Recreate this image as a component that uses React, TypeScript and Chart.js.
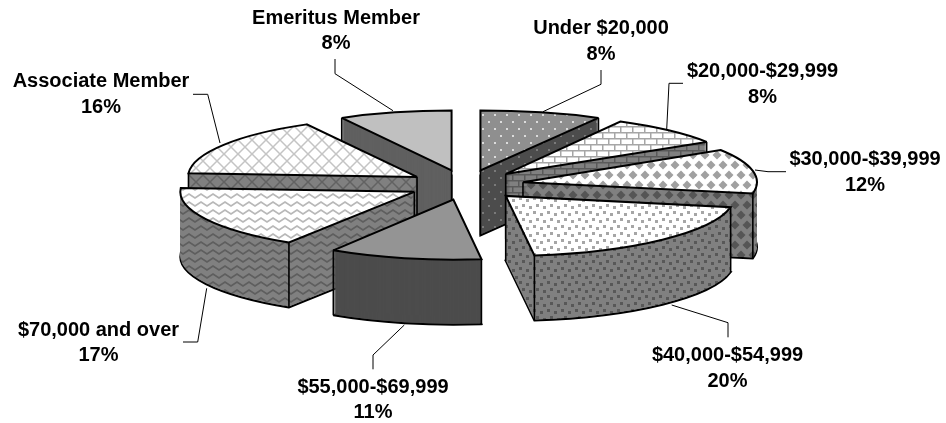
import React, { useEffect, useRef } from "react";
import { Chart, registerables } from "chart.js";

Chart.register(...registerables);

const categories = [
  "Under $20,000",
  "$20,000-$29,999",
  "$30,000-$39,999",
  "$40,000-$54,999",
  "$55,000-$69,999",
  "$70,000 and over",
  "Associate Member",
  "Emeritus Member",
];
const shares = [8, 8, 12, 20, 11, 17, 16, 8];

// Presentation of the 3-D pie
const CENTER_X = 466;
const CENTER_Y = 185;
const RADIUS_X = 232;
const RADIUS_Y = 60;
const DEPTH = 65;
const EXPLODE = 0.25;
// Horizontal radius per slice: the source's perspective makes them differ slightly
const sliceRadiusX = [245, 238, 234, 229, 224, 234, 229, 228];

// Label anchor [centre x, first baseline, second baseline] and leader polylines
const labelAnchors = [
  [601, 34, 60],
  [762.5, 77, 103],
  [865, 165, 191],
  [727.5, 361, 387],
  [373, 393, 418],
  [98.5, 336, 361],
  [101, 87, 113],
  [336, 24, 49],
];
const leaders = [
  [[601, 70], [601, 84.3], [543, 111.7]],
  [[683, 83.3], [669, 83.3], [666.7, 129.3]],
  [[786, 171.7], [768, 171.7], [755, 170]],
  [[728, 337.3], [728, 322.7], [671.7, 305]],
  [[373, 369.3], [373, 355], [404.3, 325]],
  [[183, 342], [197.7, 342], [206.7, 288.3]],
  [[193, 94.3], [207.7, 94.3], [220, 143]],
  [[335, 59], [335, 73.7], [393, 110.7]],
];

type Painter = (g: CanvasRenderingContext2D) => void;

function tile(w: number, h: number, bg: string, paint: Painter, ctx: CanvasRenderingContext2D) {
  const c = document.createElement("canvas");
  c.width = w;
  c.height = h;
  const g = c.getContext("2d") as CanvasRenderingContext2D;
  g.fillStyle = bg;
  g.fillRect(0, 0, w, h);
  paint(g);
  return ctx.createPattern(c, "repeat") as CanvasPattern;
}

const paintDots = (fg: string): Painter => (g) => {
  g.fillStyle = fg;
  g.fillRect(2, 2, 2, 2);
  g.fillRect(8, 9, 2, 2);
};
const paintBrick = (fg: string): Painter => (g) => {
  g.fillStyle = fg;
  g.fillRect(0, 0, 12, 1.5);
  g.fillRect(0, 6, 12, 1.5);
  g.fillRect(2, 0, 1.5, 6);
  g.fillRect(8, 6, 1.5, 6);
};
const paintDiamonds = (fg: string): Painter => (g) => {
  g.fillStyle = fg;
  const diamond = (x: number, y: number) => {
    g.beginPath();
    g.moveTo(x - 4.5, y);
    g.lineTo(x, y - 4.5);
    g.lineTo(x + 4.5, y);
    g.lineTo(x, y + 4.5);
    g.closePath();
    g.fill();
  };
  diamond(3, 5);
  diamond(15, 5);
  diamond(9, 15);
  diamond(-3, 15);
};
const paintSpeckle = (fg: string): Painter => (g) => {
  g.fillStyle = fg;
  g.fillRect(1, 1, 3, 3);
  g.fillRect(8, 3, 3, 3);
  g.fillRect(4, 8, 3, 3);
  g.fillRect(11, 10, 3, 3);
};
const paintZigzag = (fg: string): Painter => (g) => {
  g.strokeStyle = fg;
  g.lineWidth = 1.6;
  g.beginPath();
  g.moveTo(-3, 2);
  g.lineTo(3, 6);
  g.lineTo(9, 2);
  g.lineTo(15, 6);
  g.stroke();
};
const paintLattice = (fg: string): Painter => (g) => {
  g.strokeStyle = fg;
  g.lineWidth = 1.5;
  g.beginPath();
  g.moveTo(0, 0);
  g.lineTo(14, 14);
  g.moveTo(14, 0);
  g.lineTo(0, 14);
  g.stroke();
};

function buildFills(ctx: CanvasRenderingContext2D) {
  const tops = [
    tile(12, 14, "#8f8f8f", paintDots("#dcdcdc"), ctx),
    tile(12, 12, "#ffffff", paintBrick("#a6a6a6"), ctx),
    tile(12, 20, "#ffffff", paintDiamonds("#a0a0a0"), ctx),
    tile(14, 14, "#ffffff", paintSpeckle("#a6a6a6"), ctx),
    "#949494",
    tile(12, 8, "#ffffff", paintZigzag("#b8b8b8"), ctx),
    tile(14, 14, "#ffffff", paintLattice("#c4c4c4"), ctx),
    "#c0c0c0",
  ];
  const sides = [
    tile(12, 14, "#4c4c4c", paintDots("#7a7a7a"), ctx),
    tile(12, 12, "#808080", paintBrick("#5a5a5a"), ctx),
    tile(12, 20, "#808080", paintDiamonds("#555555"), ctx),
    tile(14, 14, "#808080", paintSpeckle("#585858"), ctx),
    "#4c4c4c",
    tile(12, 8, "#808080", paintZigzag("#5e5e5e"), ctx),
    tile(14, 14, "#808080", paintLattice("#626262"), ctx),
    "#606060",
  ];
  return { tops, sides };
}

export default function App() {
  const ref = useRef<HTMLCanvasElement>(null);

  useEffect(() => {
    document.body.style.margin = "0";
    const canvas = ref.current as HTMLCanvasElement;
    const base = canvas.getContext("2d") as CanvasRenderingContext2D;
    const { tops, sides } = buildFills(base);

    const pie3d = {
      id: "pie3d",
      beforeDatasetsDraw(chart: any) {
        const ctx = chart.ctx as any;
        const arcs = chart.getDatasetMeta(0).data as any[];
        const proto = CanvasRenderingContext2D.prototype;
        ctx.save();
        ctx.miterLimit = 3;
        // Fill and stroke in device space, so neither pattern nor line width is squashed.
        ctx.fill = function () {
          ctx.save();
          ctx.setTransform(1, 0, 0, 1, 0, 0);
          proto.fill.call(ctx);
          ctx.restore();
        };
        ctx.stroke = function () {
          ctx.save();
          ctx.setTransform(1, 0, 0, 1, 0, 0);
          proto.stroke.call(ctx);
          ctx.restore();
        };

        const order = arcs
          .map((el, i) => ({ el, i, mid: (el.startAngle + el.endAngle) / 2 }))
          .sort((a, b) => Math.sin(a.mid) - Math.sin(b.mid));

        order.forEach(({ el, i, mid }) => {
          const R = el.outerRadius;
          const rx = sliceRadiusX[i];
          const ax = CENTER_X + Math.cos(mid) * EXPLODE * RADIUS_X;
          const ay = CENTER_Y + Math.sin(mid) * EXPLODE * RADIUS_Y;
          const original = el.options;
          const paint = (dy: number, fill: any, borderWidth: number) => {
            el.options = { ...original, backgroundColor: fill, borderWidth };
            ctx.save();
            ctx.translate(ax, ay + dy);
            ctx.scale(rx / R, RADIUS_Y / R);
            ctx.translate(-el.x, -el.y);
            el.draw(ctx);
            ctx.restore();
          };

          paint(DEPTH, sides[i], 2);
          for (let d = DEPTH - 1; d > 0; d--) paint(d, sides[i], 0);

          // Vertical edges that are not hidden beneath the slice's own top face
          const inSector = (x: number, y: number) => {
            if (x * x + y * y >= 1) return false;
            let a = Math.atan2(y, x);
            while (a < el.startAngle) a += Math.PI * 2;
            while (a > el.startAngle + Math.PI * 2) a -= Math.PI * 2;
            return a <= el.endAngle;
          };
          const e = 0.02;
          const edges: [number, number][] = [];
          if (!inSector(0, e)) edges.push([0, 0]);
          [el.startAngle, el.endAngle].forEach((a: number) => {
            const px = Math.cos(a);
            const py = Math.sin(a);
            if (!inSector(px * 0.999, py * 0.999 + e)) edges.push([px, py]);
          });
          ctx.save();
          ctx.setTransform(1, 0, 0, 1, 0, 0);
          ctx.strokeStyle = "#000";
          ctx.lineWidth = 1.6;
          edges.forEach(([px, py]) => {
            ctx.beginPath();
            ctx.moveTo(ax + px * rx, ay + py * RADIUS_Y);
            ctx.lineTo(ax + px * rx, ay + py * RADIUS_Y + DEPTH);
            proto.stroke.call(ctx);
          });
          ctx.restore();

          paint(0, tops[i], 2);
          el.options = original;
        });

        delete ctx.fill;
        delete ctx.stroke;
        ctx.restore();
        return false;
      },
      afterDraw(chart: any) {
        const ctx = chart.ctx as CanvasRenderingContext2D;
        ctx.save();
        ctx.strokeStyle = "#000";
        ctx.lineWidth = 1;
        leaders.forEach((pts) => {
          ctx.beginPath();
          pts.forEach(([x, y], k) => (k ? ctx.lineTo(x, y) : ctx.moveTo(x, y)));
          ctx.stroke();
        });
        ctx.fillStyle = "#000";
        ctx.font = 'bold 20px "Liberation Sans", Arial, sans-serif';
        ctx.textAlign = "center";
        ctx.textBaseline = "alphabetic";
        categories.forEach((name, i) => {
          const [x, y1, y2] = labelAnchors[i];
          ctx.fillText(name, x, y1);
          ctx.fillText(`${shares[i]}%`, x, y2);
        });
        ctx.restore();
      },
    };

    const chart = new Chart(canvas, {
      type: "pie",
      data: {
        labels: categories,
        datasets: [
          {
            data: shares,
            backgroundColor: tops as any,
            borderColor: "#000000",
            borderWidth: 2,
            borderJoinStyle: "miter",
          } as any,
        ],
      },
      options: {
        responsive: false,
        animation: false,
        events: [],
        plugins: { legend: { display: false }, tooltip: { enabled: false } },
      },
      plugins: [pie3d as any],
    });
    return () => chart.destroy();
  }, []);

  return <canvas ref={ref} width={946} height={423} style={{ display: "block" }} />;
}
